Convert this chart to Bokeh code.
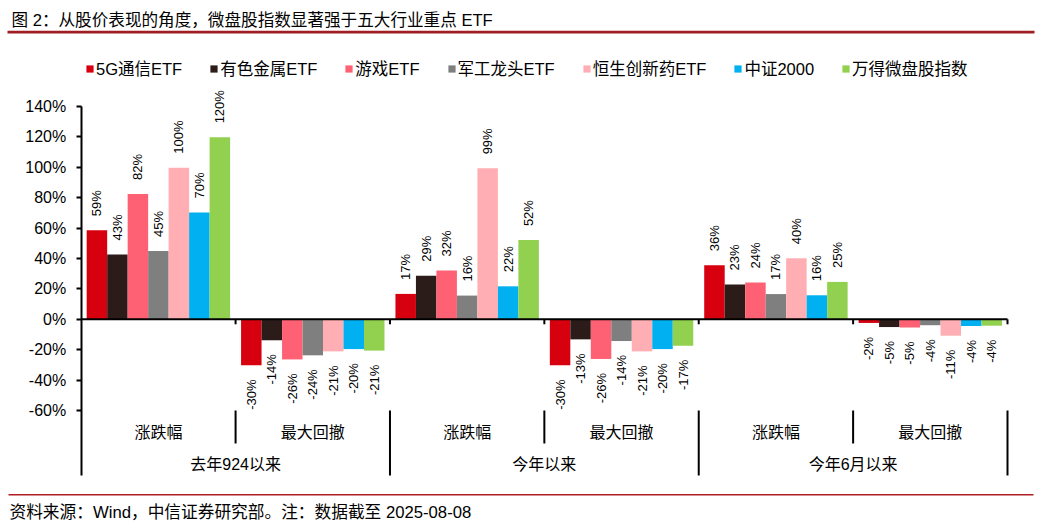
from bokeh.plotting import figure
from bokeh.models import (ColumnDataSource, FixedTicker, Legend, LegendItem,
                          CustomJSTickFormatter, Range1d)
from bokeh.core.properties import value
from bokeh.embed import file_html
from bokeh.resources import INLINE

# ---------------- data ----------------
periods = ["去年924以来", "今年以来", "今年6月以来"]
metrics = ["涨跌幅", "最大回撤"]
series_names = ["5G通信ETF", "有色金属ETF", "游戏ETF", "军工龙头ETF", "恒生创新药ETF", "中证2000", "万得微盘股指数"]
colors = ["#D7000F", "#2B1C19", "#FF6174", "#7F7F7F", "#FFAFB3", "#00B0F0", "#92D050"]

# order: (924,涨跌幅),(924,回撤),(今年,涨跌幅),(今年,回撤),(6月,涨跌幅),(6月,回撤)
v_5g = [58.6, -30.3, 16.7, -30.3, 35.6, -2.4]
v_metal = [42.6, -13.8, 28.7, -13.2, 22.9, -5.1]
v_game = [82.4, -26.4, 32.1, -26.1, 24.2, -5.4]
v_mil = [45.0, -23.7, 15.6, -14.3, 16.6, -3.9]
v_hs = [99.7, -21.1, 99.3, -21.1, 40.2, -10.8]
v_zz = [70.3, -19.6, 21.7, -19.6, 15.8, -4.4]
v_wind = [119.7, -20.6, 52.1, -17.4, 24.6, -4.2]
series_values = [v_5g, v_metal, v_game, v_mil, v_hs, v_zz, v_wind]

y_ticks = [-60, -40, -20, 0, 20, 40, 60, 80, 100, 120, 140]

title_text = "图 2：从股价表现的角度，微盘股指数显著强于五大行业重点 ETF"
source_text = "资料来源：Wind，中信证券研究部。注：数据截至 2025-08-08"

# ---------------- layout constants (page pixels) ----------------
FONT = "'Liberation Sans', 'Noto Sans CJK SC', sans-serif"
W, H = 1052, 527
AXIS_X, RIGHT_X = 80.7, 1007.0        # left / right edge of the category area
ZERO_Y, PX_PER_UNIT = 318.8, 1.52     # pixel row of 0% and pixels per 1%
CAT_BOTTOM_Y = 475.0                  # bottom of the category axis separators

categories = [(p_, m_) for p_ in periods for m_ in metrics]
n_cat = len(categories)
cat_px = (RIGHT_X - AXIS_X) / n_cat
X_START = -AXIS_X / cat_px
X_END = (W - AXIS_X) / cat_px
Y_TOP = ZERO_Y / PX_PER_UNIT
Y_BOT = (ZERO_Y - H) / PX_PER_UNIT


def py(page_y):  # page pixel row -> data value
    return (ZERO_Y - page_y) / PX_PER_UNIT


LABEL_PAD = 14 / PX_PER_UNIT

p = figure(width=W, height=H, x_range=Range1d(X_START, X_END), y_range=Range1d(Y_BOT, Y_TOP),
           output_backend="svg", toolbar_location=None, x_axis_location=None, min_border=0)
p.extra_x_ranges = {"px": Range1d(0, W)}
p.extra_y_ranges = {"px": Range1d(H, 0)}
p.outline_line_color = None
p.xgrid.visible = False
p.ygrid.visible = False
p.background_fill_color = "white"
p.border_fill_color = "white"

ax = p.yaxis[0]
ax.fixed_location = 0
ax.ticker = FixedTicker(ticks=y_ticks)
ax.formatter = CustomJSTickFormatter(code="return tick.toFixed(0) + '%';")
ax.bounds = (py(CAT_BOTTOM_Y), 140)
ax.axis_line_width = 2
ax.axis_line_color = "black"
ax.major_tick_line_width = 2
ax.major_tick_line_color = "black"
ax.major_tick_out = 5
ax.major_tick_in = 0
ax.minor_tick_line_color = None
ax.major_label_standoff = 10
ax.major_label_text_font = FONT
ax.major_label_text_font_size = "16px"
ax.major_label_text_color = "black"

# ---------------- bars + value labels ----------------
n = len(series_names)
bw = 0.929 / n
cat_centers = [k + 0.5 for k in range(n_cat)]

renderers = []
for i, (name, vals, col) in enumerate(zip(series_names, series_values, colors)):
    off = (i - (n - 1) / 2) * bw
    xs = [c + off for c in cat_centers]
    src = ColumnDataSource(dict(x=xs, val=vals))
    r = p.vbar(x="x", top="val", bottom=0, width=bw, fill_color=col, line_color=None, source=src)
    renderers.append(r)
    pos = [(x, v) for x, v in zip(xs, vals) if v >= 0]
    neg = [(x, v) for x, v in zip(xs, vals) if v < 0]
    for items, sign, align in ((pos, 1, "left"), (neg, -1, "right")):
        if not items:
            continue
        s = ColumnDataSource(dict(x=[x for x, _ in items], y=[v + sign * LABEL_PAD for _, v in items],
                                  t=[f"{round(v)}%" for _, v in items]))
        p.text(x="x", y="y", text="t", source=s, angle=90, angle_units="deg",
               text_align=align, text_baseline="middle",
               text_font=value(FONT), text_font_size="13px", text_color="black")

# ---------------- category axis drawn at 0 and below the plot ----------------
p.segment(x0=[0], x1=[n_cat], y0=[0], y1=[0], line_color="black", line_width=2)
bounds_x = [k + 1 for k in range(n_cat)]
p.segment(x0=bounds_x, x1=bounds_x, y0=[0] * n_cat, y1=[-5 / PX_PER_UNIT] * n_cat,
          line_color="black", line_width=2)

inner_x = [2 * j + 1 for j in range(len(periods))]
outer_x = [2 * j + 2 for j in range(len(periods))]
p.segment(x0=inner_x, x1=inner_x, y0=[-60] * len(inner_x), y1=[py(443)] * len(inner_x),
          line_color="black", line_width=2)
p.segment(x0=outer_x, x1=outer_x, y0=[-60] * len(outer_x), y1=[py(CAT_BOTTOM_Y)] * len(outer_x),
          line_color="black", line_width=2)

sub_src = ColumnDataSource(dict(x=cat_centers, t=[c[1] for c in categories]))
p.text(x="x", y=py(432), text="t", source=sub_src, text_align="center", text_baseline="middle",
       text_font=value(FONT), text_font_size="16px", text_color="black")
grp_src = ColumnDataSource(dict(x=[2 * j + 1 for j in range(len(periods))], t=periods))
p.text(x="x", y=py(464), text="t", source=grp_src, text_align="center", text_baseline="middle",
       text_font=value(FONT), text_font_size="16px", text_color="black")

# ---------------- legend ----------------
legend = Legend(items=[LegendItem(label=nm, renderers=[r]) for nm, r in zip(series_names, renderers)],
                orientation="horizontal", location=(85, H - 80),
                glyph_width=9, glyph_height=9, label_standoff=2, spacing=27,
                padding=0, margin=0, border_line_color=None, background_fill_alpha=0,
                label_text_font=FONT, label_text_font_size="16.5px", label_text_color="black")
p.add_layout(legend, "center")

# ---------------- title, source and rules (page pixel coordinates) ----------------
p.text(x=[11], y=[19.5], text=[title_text], text_align="left", text_baseline="middle",
       text_font=value(FONT), text_font_size="16.6px", text_color="black",
       x_range_name="px", y_range_name="px")
p.segment(x0=[7], x1=[1034], y0=[31.7], y1=[31.7], line_color="#A01E23", line_width=2.7,
          x_range_name="px", y_range_name="px")
p.segment(x0=[8], x1=[1033], y0=[494.3], y1=[494.3], line_color="#B01E23", line_width=1.4,
          x_range_name="px", y_range_name="px")
p.text(x=[9], y=[511.5], text=[source_text], text_align="left", text_baseline="middle",
       text_font=value(FONT), text_font_size="16.7px", text_color="black",
       x_range_name="px", y_range_name="px")

open("out.html", "w").write(file_html(p, INLINE))
